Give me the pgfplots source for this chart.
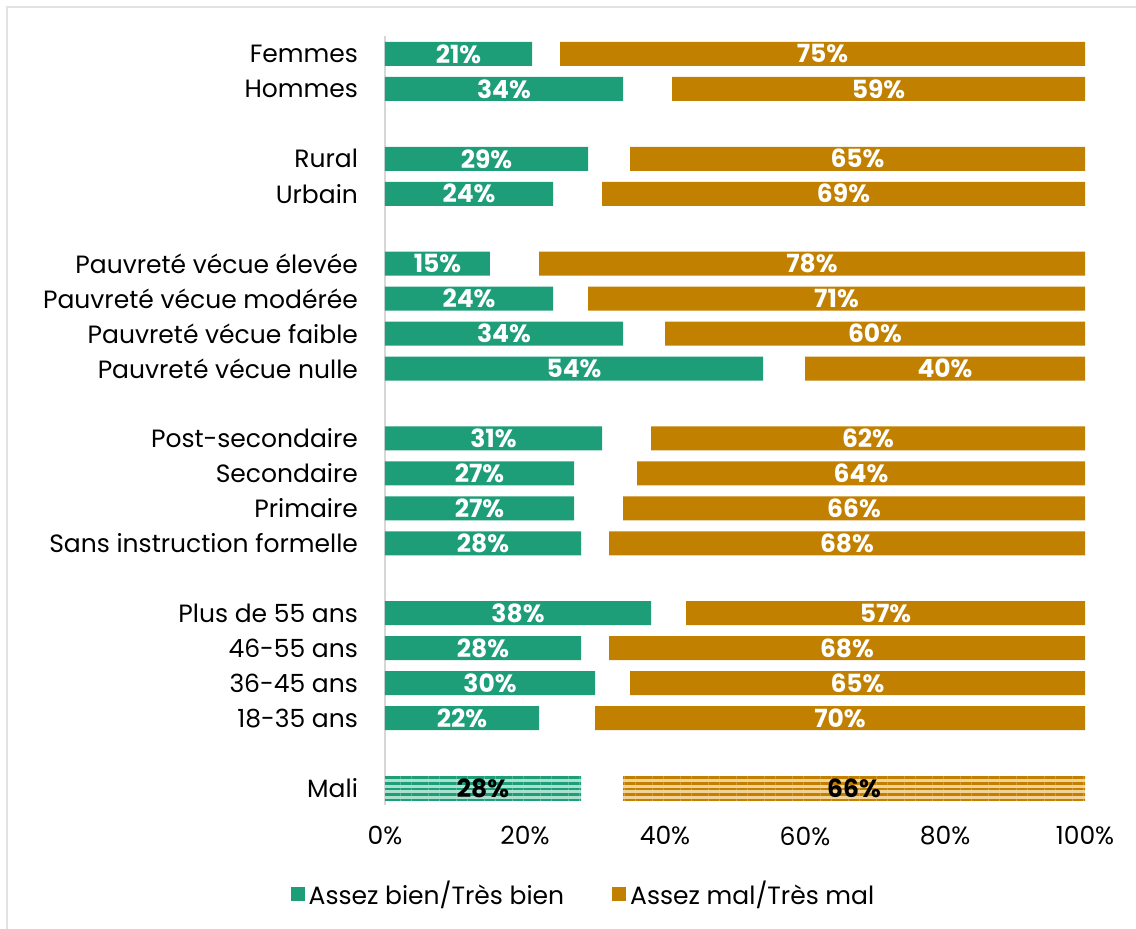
\documentclass[border=0pt]{standalone}
\usepackage{fontspec}
\setmainfont{Poppins}
\usepackage{pgfplots}
\pgfplotsset{compat=1.18}
\usepackage{pgfplotstable}
\usetikzlibrary{patterns.meta}

\definecolor{vert}{RGB}{29,158,120}
\definecolor{ocre}{RGB}{193,128,0}
\definecolor{vertclair}{RGB}{170,224,206}
\definecolor{ocreclair}{RGB}{242,210,150}
\definecolor{cadre}{RGB}{226,226,226}
\definecolor{axe}{RGB}{215,215,215}

% pos = rang de la barre (negatif, de haut en bas), gap = part non affichee
\pgfplotstableread{
pos g gap o
0 21 4 75
-1 34 7 59
-3 29 6 65
-4 24 7 69
-6 15 7 78
-7 24 5 71
-8 34 6 60
-9 54 6 40
-11 31 7 62
-12 27 9 64
-13 27 7 66
-14 28 4 68
-16 38 5 57
-17 28 4 68
-18 30 5 65
-19 22 8 70
}\groupes

\pgfplotstableread{
pos g gap o
-21 28 6 66
}\mali

\pgfplotsset{
  base/.style={
    scale only axis, width=350pt, height=384.5pt,
    xmin=0, xmax=100, ymin=-21.5, ymax=0.5,
    anchor=south west, at={(192.5pt,61.75pt)},
    bar width=12pt, clip=false,
  },
  etiquette/.style={
    only marks, mark=none, nodes near coords,
    point meta=explicit symbolic,
    nodes near coords={\pgfplotspointmeta\%},
    every node near coord/.append style={anchor=center,
      font=\fontsize{12.5}{14}\selectfont\bfseries, text=#1},
  },
}

\begin{document}
\begin{tikzpicture}
\useasboundingbox (0,0) rectangle (568pt,464.5pt);
\draw[cadre, line width=1.2pt] (3.5pt,-10pt) -- (3.5pt,461pt) -- (600pt,461pt);

\begin{axis}[
    base,
    xbar stacked,
    axis y line*=left, axis x line*=bottom,
    x axis line style={draw=none},
    y axis line style={draw=axe, line width=1pt},
    major tick length=0pt,
    xtick={0,20,40,60,80,100},
    xticklabels={0\%,20\%,40\%,60\%,80\%,100\%},
    xticklabel style={yshift=-7pt, font=\fontsize{12.5}{14}\selectfont},
    ytick={0,-1,-3,-4,-6,-7,-8,-9,-11,-12,-13,-14,-16,-17,-18,-19,-21},
    yticklabels={Femmes,Hommes,Rural,Urbain,
      Pauvreté vécue élevée,Pauvreté vécue modérée,Pauvreté vécue faible,Pauvreté vécue nulle,
      Post-secondaire,Secondaire,Primaire,Sans instruction formelle,
      Plus de 55 ans,46-55 ans,36-45 ans,18-35 ans,Mali},
    yticklabel style={xshift=-10pt, font=\fontsize{12.5}{14}\selectfont},
    legend style={at={(0.285,-0.115)}, anchor=center, draw=none,
      legend columns=2, font=\fontsize{12.5}{14}\selectfont,
      /tikz/every even column/.append style={column sep=22pt}},
    legend image code/.code={\fill[#1] (0pt,-3.5pt) rectangle (7pt,3.5pt);},
  ]
\addplot[fill=vert, draw=none] table[x=g, y=pos] {\groupes};
\addlegendentry{Assez bien/Très bien}
\addplot[fill=none, draw=none, forget plot] table[x=gap, y=pos] {\groupes};
\addplot[fill=ocre, draw=none] table[x=o, y=pos] {\groupes};
\addlegendentry{Assez mal/Très mal}
\end{axis}

% ligne Mali, hachuree
\begin{axis}[base, xbar stacked, hide axis]
\addplot[fill=vertclair, draw=none,
  postaction={pattern={Lines[angle=0,distance=2.8pt,line width=1.3pt]}, pattern color=vert}]
  table[x=g, y=pos] {\mali};
\addplot[fill=none, draw=none] table[x=gap, y=pos] {\mali};
\addplot[fill=ocreclair, draw=none,
  postaction={pattern={Lines[angle=0,distance=2.8pt,line width=1.3pt]}, pattern color=ocre}]
  table[x=o, y=pos] {\mali};
\end{axis}

% etiquettes centrees dans les barres
\begin{axis}[base, hide axis]
\addplot[etiquette=white] table[x expr=\thisrow{g}/2, y=pos, meta=g] {\groupes};
\addplot[etiquette=white] table[x expr=100-\thisrow{o}/2, y=pos, meta=o] {\groupes};
\addplot[etiquette=black] table[x expr=\thisrow{g}/2, y=pos, meta=g] {\mali};
\addplot[etiquette=black] table[x expr=100-\thisrow{o}/2, y=pos, meta=o] {\mali};
\end{axis}
\end{tikzpicture}
\end{document}
